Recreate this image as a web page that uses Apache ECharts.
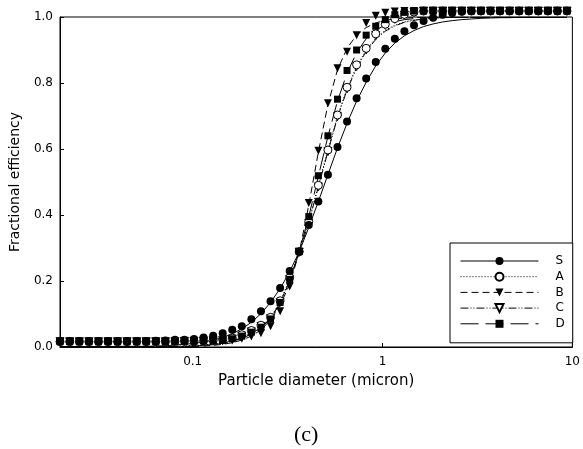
<!DOCTYPE html>
<html><head><meta charset="utf-8">
<script src="https://cdn.jsdelivr.net/npm/echarts@6/dist/echarts.min.js"></script>
<style>html,body{margin:0;padding:0;background:#fff}#c{width:583px;height:449px}</style>
</head><body><div id="c"></div>
<script>
// Particle diameters (micron)
const diameters = [0.0200,0.0225,0.0253,0.0284,0.0319,0.0358,0.0402,0.0451,0.0507,0.0569,0.0639,0.0718,0.0806,0.0905,0.1016,0.1141,0.1282,0.1439,0.1616,0.1815,0.2038,0.2289,0.2571,0.2887,0.3242,0.3641,0.4088,0.4591,0.5156,0.5790,0.6502,0.7302,0.8200,0.9209,1.034,1.161,1.304,1.465,1.645,1.847,2.074,2.329,2.616,2.938,3.299,3.705,4.160,4.672,5.247,5.892,6.617,7.431,8.345,9.371];

const seriesNames = ['S','A','B','C','D'];

// Measured points (markers)
const markS = [0.018,0.018,0.018,0.018,0.018,0.018,0.018,0.018,0.018,0.018,0.019,0.020,0.022,0.022,0.024,0.029,0.034,0.042,0.052,0.063,0.084,0.108,0.139,0.179,0.230,0.289,0.370,0.441,0.522,0.606,0.683,0.754,0.814,0.864,0.904,0.934,0.957,0.975,0.988,0.998,1.007,1.012,1.016,1.018,1.018,1.018,1.018,1.018,1.018,1.018,1.018,1.018,1.018,1.018];
const markA = [0.016,0.016,0.016,0.016,0.016,0.016,0.016,0.016,0.016,0.016,0.016,0.016,0.017,0.017,0.018,0.019,0.020,0.022,0.027,0.037,0.050,0.066,0.090,0.140,0.210,0.289,0.380,0.490,0.597,0.703,0.787,0.855,0.905,0.949,0.978,0.995,1.008,1.015,1.018,1.018,1.018,1.018,1.018,1.018,1.018,1.018,1.018,1.018,1.018,1.018,1.018,1.018,1.018,1.018];
const markB = [0.016,0.016,0.016,0.016,0.016,0.016,0.016,0.016,0.016,0.016,0.016,0.016,0.016,0.016,0.016,0.016,0.017,0.018,0.020,0.025,0.032,0.042,0.063,0.108,0.183,0.289,0.436,0.595,0.739,0.845,0.895,0.945,0.982,1.004,1.013,1.017,1.018,1.018,1.018,1.018,1.018,1.018,1.018,1.018,1.018,1.018,1.018,1.018,1.018,1.018,1.018,1.018,1.018,1.018];
const markC = [0.016,0.016,0.016,0.016,0.016,0.016,0.016,0.016,0.016,0.016,0.016,0.016,0.016,0.017,0.017,0.018,0.019,0.020,0.024,0.033,0.046,0.062,0.086,0.135,0.205,0.287,0.375,0.485,0.592,0.698,0.782,0.850,0.900,0.944,0.975,0.993,1.006,1.014,1.018,1.018,1.018,1.018,1.018,1.018,1.018,1.018,1.018,1.018,1.018,1.018,1.018,1.018,1.018,1.018];
const markD = [0.016,0.016,0.016,0.016,0.016,0.016,0.016,0.016,0.016,0.016,0.016,0.016,0.016,0.017,0.017,0.018,0.019,0.020,0.025,0.033,0.045,0.060,0.085,0.135,0.205,0.289,0.395,0.519,0.640,0.751,0.838,0.900,0.945,0.972,0.992,1.007,1.014,1.018,1.018,1.018,1.018,1.018,1.018,1.018,1.018,1.018,1.018,1.018,1.018,1.018,1.018,1.018,1.018,1.018];

// Fitted curves (lines)
const fitS = [0.001,0.001,0.001,0.001,0.001,0.001,0.002,0.002,0.002,0.002,0.003,0.004,0.006,0.008,0.011,0.015,0.021,0.029,0.040,0.055,0.075,0.101,0.135,0.177,0.228,0.289,0.362,0.441,0.522,0.603,0.678,0.745,0.802,0.852,0.891,0.921,0.943,0.959,0.971,0.979,0.985,0.989,0.992,0.994,0.996,0.997,0.998,0.998,0.999,0.999,0.999,0.999,0.999,0.999];
const fitA = [0.001,0.001,0.001,0.001,0.001,0.001,0.001,0.001,0.001,0.001,0.001,0.002,0.002,0.003,0.004,0.006,0.009,0.013,0.019,0.029,0.043,0.062,0.090,0.137,0.206,0.289,0.382,0.490,0.597,0.700,0.784,0.850,0.900,0.936,0.960,0.975,0.985,0.991,0.994,0.996,0.998,0.999,0.999,0.999,0.999,0.999,0.999,0.999,0.999,0.999,0.999,0.999,0.999,0.999];
const fitB = [0.000,0.000,0.000,0.000,0.000,0.000,0.000,0.000,0.000,0.000,0.000,0.000,0.001,0.001,0.002,0.003,0.005,0.008,0.013,0.021,0.033,0.052,0.082,0.126,0.190,0.287,0.430,0.590,0.735,0.840,0.905,0.945,0.968,0.982,0.990,0.994,0.997,0.998,0.999,0.999,0.999,0.999,0.999,0.999,0.999,0.999,0.999,0.999,0.999,0.999,0.999,0.999,0.999,0.999];
const fitC = [0.001,0.001,0.001,0.001,0.001,0.001,0.001,0.001,0.001,0.001,0.001,0.001,0.002,0.002,0.003,0.005,0.008,0.012,0.018,0.027,0.041,0.059,0.086,0.133,0.202,0.287,0.377,0.485,0.592,0.695,0.779,0.845,0.896,0.932,0.957,0.973,0.984,0.990,0.994,0.996,0.998,0.999,0.999,0.999,0.999,0.999,0.999,0.999,0.999,0.999,0.999,0.999,0.999,0.999];
const fitD = [0.001,0.001,0.001,0.001,0.001,0.001,0.001,0.001,0.001,0.001,0.001,0.001,0.001,0.002,0.003,0.005,0.007,0.011,0.017,0.026,0.039,0.058,0.087,0.132,0.200,0.289,0.395,0.517,0.638,0.745,0.830,0.892,0.934,0.960,0.976,0.986,0.992,0.995,0.997,0.998,0.999,0.999,0.999,0.999,0.999,0.999,0.999,0.999,0.999,0.999,0.999,0.999,0.999,0.999];

const xTickLabels = ['0.1','1','10'];
const xAxisTitle = 'Particle diameter (micron)';
const yAxisTitle = 'Fractional efficiency';
const panelLabel = '(c)';

const marks = {S: markS, A: markA, B: markB, C: markC, D: markD};
const fits = {S: fitS, A: fitA, B: fitB, C: fitC, D: fitD};

const styles = {
  S: {symbol: 'circle', rot: 0, empty: false, dash: 'solid', size: 8},
  A: {symbol: 'circle', rot: 0, empty: true, dash: [1, 2], size: 8},
  B: {symbol: 'triangle', rot: 180, empty: false, dash: [7, 4], size: 8},
  C: {symbol: 'triangle', rot: 180, empty: true, dash: [8, 2, 1, 2, 1, 2], size: 8},
  D: {symbol: 'rect', rot: 0, empty: false, dash: [18, 7], size: 7}
};

function pairs(ys) { return diameters.map((d, i) => [d, ys[i]]); }

const lineSeries = seriesNames.map(n => {
  const s = styles[n];
  return {
    type: 'line', name: n, data: pairs(fits[n]),
    showSymbol: false,
    symbol: s.empty ? 'empty' + s.symbol.charAt(0).toUpperCase() + s.symbol.slice(1) : s.symbol,
    symbolRotate: s.rot, symbolSize: s.size,
    itemStyle: {color: '#000'},
    lineStyle: {color: '#000', width: 1, type: s.dash},
    silent: true, z: 2
  };
});
const scatterOrder = ['C', 'A', 'B', 'D', 'S'];
const scatterSeries = scatterOrder.map(n => {
  const s = styles[n];
  return {
    type: 'scatter', name: n, data: pairs(marks[n]),
    symbol: s.symbol, symbolRotate: s.rot, symbolSize: s.size,
    itemStyle: s.empty ? {color: '#fff', borderColor: '#000', borderWidth: 1, opacity: 1}
                       : {color: '#000', opacity: 1},
    clip: false, silent: true, z: 3
  };
});

const chart = echarts.init(document.getElementById('c'), null, {renderer: 'canvas'});
const font = 'DejaVu Sans';
chart.setOption({
  animation: false,
  backgroundColor: '#fff',
  title: {
    text: panelLabel, left: 289, top: 419,
    textStyle: {fontFamily: 'Liberation Serif', fontSize: 22, fontWeight: 'normal', color: '#000'}
  },
  grid: {left: 59, right: 7, top: 17, bottom: 102, show: true, borderColor: '#000', borderWidth: 1},
  legend: {
    data: seriesNames, orient: 'vertical', left: 450, top: 243,
    itemWidth: 78, itemHeight: 10, itemGap: 3.7,
    padding: [12, 8, 13, 10],
    borderColor: '#000', borderWidth: 1, backgroundColor: '#fff',
    selectedMode: false,
    lineStyle: {width: 1},
    textStyle: {fontFamily: font, fontSize: 12, color: '#000', lineHeight: 12, padding: [0, 0, 0, 12]}
  },
  xAxis: {
    type: 'log', logBase: 10, min: 0.02, max: 10,
    name: xAxisTitle, nameLocation: 'middle', nameGap: 27,
    nameTextStyle: {fontFamily: font, fontSize: 15, color: '#000'},
    axisLine: {lineStyle: {color: '#000', width: 1}},
    axisTick: {inside: true, length: 4, lineStyle: {color: '#000'}},
    minorTick: {show: false},
    splitLine: {show: false},
    axisLabel: {
      fontFamily: font, fontSize: 12, color: '#000', margin: 9,
      formatter: v => {
        const l = Math.log10(v);
        if (Math.abs(l - Math.round(l)) > 1e-6) return '';
        const idx = Math.round(l) + 1;
        return xTickLabels[idx] !== undefined ? xTickLabels[idx] : '';
      }
    }
  },
  yAxis: {
    type: 'value', min: 0, max: 1, interval: 0.2,
    name: yAxisTitle, nameLocation: 'middle', nameGap: 38,
    nameTextStyle: {fontFamily: font, fontSize: 14, color: '#000'},
    axisLine: {show: true, lineStyle: {color: '#000', width: 1}},
    axisTick: {show: true, inside: true, length: 4, lineStyle: {color: '#000'}},
    splitLine: {show: false},
    axisLabel: {fontFamily: font, fontSize: 12, color: '#000', margin: 7, formatter: v => v.toFixed(1)}
  },
  series: lineSeries.concat(scatterSeries)
});
</script>
</body></html>
